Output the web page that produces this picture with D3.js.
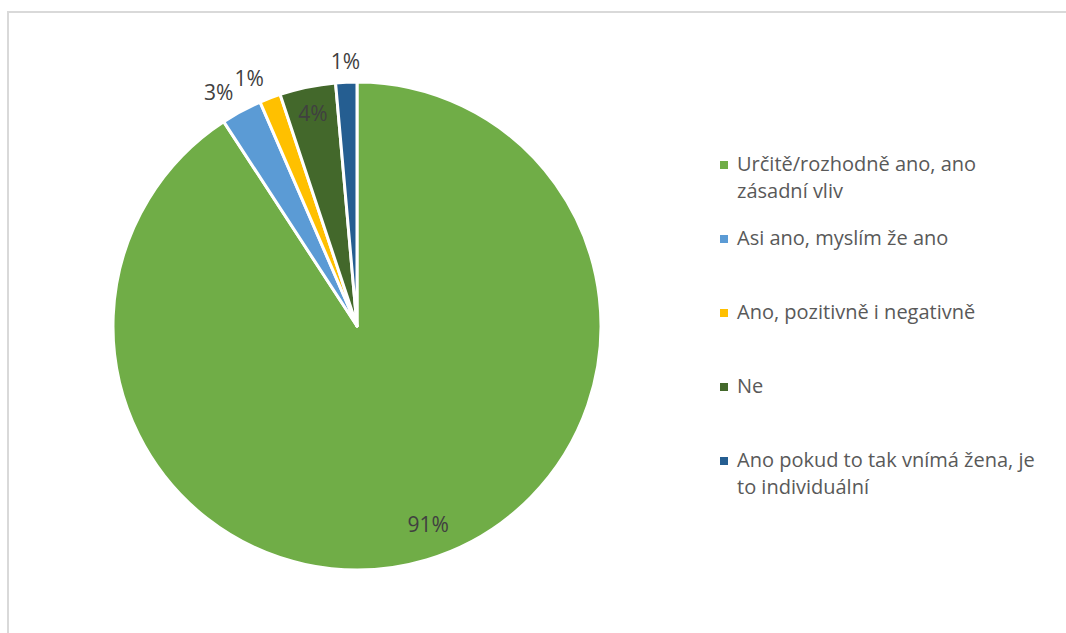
<!DOCTYPE html>
<html>
<head>
<meta charset="utf-8">
<script src="https://cdn.jsdelivr.net/npm/d3@7"></script>
<style>
  html, body { margin: 0; padding: 0; background: #ffffff; }
  svg { display: block; }
  text { font-family: "Open Sans", "Noto Sans", sans-serif; }
</style>
</head>
<body>
<svg id="chart" width="1066" height="633"></svg>
<script>
// Answer categories (legend order = slice order, clockwise from 12 o'clock)
const categories = [
  "Určitě/rozhodně ano, ano zásadní vliv",
  "Asi ano, myslím že ano",
  "Ano, pozitivně i negativně",
  "Ne",
  "Ano pokud to tak vnímá žena, je to individuální"
];
// Legend text split into lines
const legendLines = [
  ["Určitě/rozhodně ano, ano", "zásadní vliv"],
  ["Asi ano, myslím že ano"],
  ["Ano, pozitivně i negativně"],
  ["Ne"],
  ["Ano pokud to tak vnímá žena, je", "to individuální"]
];
// Share of answers
const shares = [0.908, 0.027, 0.014, 0.037, 0.014];
const colors = ["#70AD47", "#5B9BD5", "#FFC000", "#43682B", "#255E91"];
// Labels drawn inside the slice (true) or just outside it (false)
const labelInside = [true, false, false, true, false];

const svg = d3.select("#chart");
const W = 1066, H = 633;

// chart area frame
svg.append("rect")
  .attr("x", 8).attr("y", 12)
  .attr("width", W).attr("height", H)
  .attr("fill", "#ffffff")
  .attr("stroke", "#d9d9d9")
  .attr("stroke-width", 2);

const cx = 357, cy = 326, R = 244;
const data = categories.map((c, i) => ({ name: c, value: shares[i], color: colors[i], inside: labelInside[i] }));

const pie = d3.pie().value(d => d.value).sort(null);
const arcs = pie(data);
const arc = d3.arc().innerRadius(0).outerRadius(R);

const g = svg.append("g").attr("transform", `translate(${cx},${cy})`);

g.selectAll("path.slice")
  .data(arcs)
  .join("path")
  .attr("class", "slice")
  .attr("d", arc)
  .attr("fill", d => d.data.color)
  .attr("stroke", "#ffffff")
  .attr("stroke-width", 3)
  .attr("stroke-linejoin", "round");

// data labels
const fmt = d3.format(".0%");
const labelFor = (d) => {
  const mid = (d.startAngle + d.endAngle) / 2;
  const r = d.data.inside ? (d.index === 0 ? 0.85 * R : 0.89 * R) : 1.07 * R;
  const x = r * Math.sin(mid), y = -r * Math.cos(mid);
  let anchor = "middle";
  if (!d.data.inside && Math.abs(x) > 40) anchor = x < 0 ? "end" : "start";
  return { x, y, anchor };
};

g.selectAll("text.label")
  .data(arcs)
  .join("text")
  .attr("class", "label")
  .attr("x", d => labelFor(d).x + (d.index === 0 ? 12 : 0))
  .attr("y", d => labelFor(d).y)
  .attr("dy", d => d.data.inside ? "0.35em" : "0.2em")
  .attr("text-anchor", d => labelFor(d).anchor)
  .attr("font-size", 21)
  .attr("fill", "#404040")
  .text(d => fmt(d.data.value));

// legend
const legendX = 720, legendY0 = 171, legendStep = 74, lineH = 27;
const legend = svg.append("g");
const items = legend.selectAll("g.item")
  .data(data)
  .join("g")
  .attr("class", "item")
  .attr("transform", (d, i) => `translate(${legendX},${legendY0 + i * legendStep})`);

items.append("rect")
  .attr("x", 0).attr("y", -10)
  .attr("width", 8).attr("height", 8)
  .attr("fill", d => d.color);

items.append("text")
  .attr("x", 17)
  .attr("y", 0)
  .attr("font-size", 20)
  .attr("fill", "#595959")
  .selectAll("tspan")
  .data((d, i) => legendLines[i])
  .join("tspan")
  .attr("x", 17)
  .attr("dy", (t, j) => j === 0 ? 0 : lineH)
  .text(t => t);
</script>
</body>
</html>
